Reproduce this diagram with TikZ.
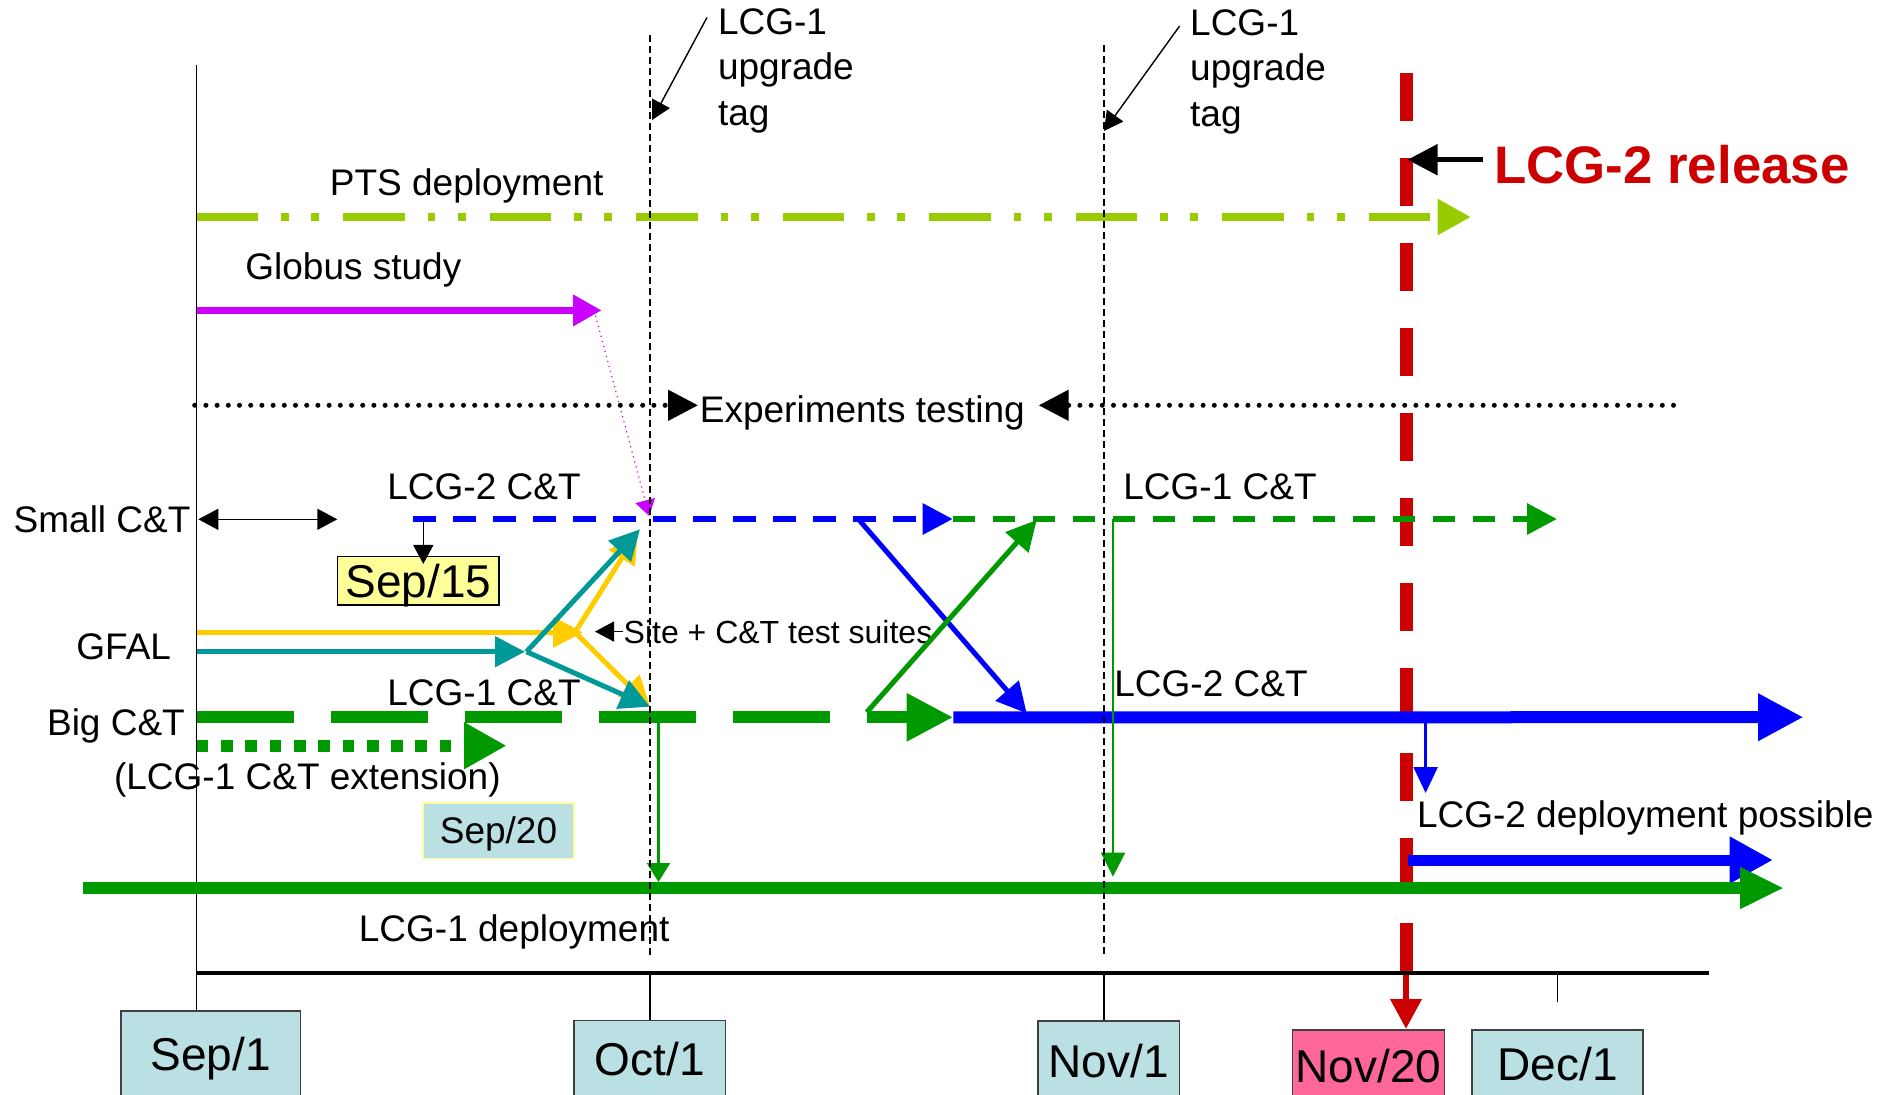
\documentclass[tikz,border=0pt]{standalone}
\usepackage{fontspec}
\setmainfont{Liberation Sans}
\usetikzlibrary{arrows.meta,positioning}

\definecolor{ptsgreen}{RGB}{153,204,0}
\definecolor{globusviolet}{RGB}{204,0,255}
\definecolor{ctgreen}{RGB}{0,153,0}
\definecolor{gfalyellow}{RGB}{255,204,0}
\definecolor{gfalteal}{RGB}{0,153,153}
\definecolor{releasered}{RGB}{204,0,0}
\definecolor{dateblue}{RGB}{187,224,227}
\definecolor{notepaper}{RGB}{255,255,153}
\definecolor{datepink}{RGB}{255,102,153}

\begin{document}
\begin{tikzpicture}[x=0.5pt, y=-0.5pt,
  >={Triangle[length=15pt,width=15pt]},
  lbl/.style={anchor=base west, inner sep=0pt, font=\fontsize{18.5}{22}\selectfont},
  tag/.style={anchor=north west, align=left, inner sep=0pt, font=\fontsize{18.5}{22.6}\selectfont},
  datebox/.style={draw=black!75, line width=0.75pt, anchor=north, inner xsep=0pt, inner ysep=0pt,
    text depth=40pt, font=\fontsize{23}{27}\selectfont},
  notebox/.style={line width=0.75pt, inner xsep=0pt, text depth=0pt},
  headS/.style={-{Triangle[length=9.5pt,width=10pt]}},
  guide/.style={line width=0.6pt, dash pattern=on 3.5pt off 2pt},
  dots/.style={line width=2.5pt, line cap=round, dash pattern=on 0pt off 5.6pt},
]
\useasboundingbox (0,0) rectangle (1896,1094);

% === Date boxes ===
\foreach \i/\lab/\cx/\ty/\bw/\tht/\col in {
    1/{Sep/1}/210.8/1010/89.75/30/dateblue,
    2/{Oct/1}/649.8/1019.6/75.75/27.7/dateblue,
    3/{Nov/1}/1108.8/1020/70.75/28.3/dateblue,
    4/{Nov/20}/1368.4/1029/76/26.4/datepink,
    5/{Dec/1}/1557.5/1029/85.5/25.5/dateblue}{
  \node[datebox, fill=\col, minimum width=\bw pt, text height=\tht pt]
    (Date-\i) at (\cx,\ty) {\lab};
}

% === Time axis ===
\coordinate (SepTop) at (196.5,64.5);
\coordinate (OctTop) at (650,35);
\coordinate (NovTop) at (1104,45.3);
\coordinate (AxisL) at (196.5,972.5);
\coordinate (AxisR) at (1708.6,972.5);
\coordinate (DecTick) at (1557.4,1001.7);
\coordinate (RedTop) at (1406,73);

% release line first, the bars go over it
\draw[releasered, line width=6.5pt, dash pattern=on 24pt off 18.5pt] (RedTop) -- (RedTop |- AxisL);
\draw[releasered, line width=3.4pt, ->] (RedTop |- AxisL) -- (RedTop |- Date-4.north);

\draw[line width=2pt] (AxisL) -- (AxisR);
\draw[line width=0.7pt] (SepTop) -- (SepTop |- Date-1.north);
\foreach \i/\m in {2/OctTop, 3/NovTop}{
  \draw[line width=0.7pt] (\m |- AxisL) -- (\m |- Date-\i.north);
}
\draw[line width=0.7pt] (DecTick |- AxisL) -- (DecTick);

% === PTS deployment ===
\node[lbl] (PtsLabel) at (329.5,195) {PTS deployment};
\coordinate (PtsStart) at (196.5,217);
\coordinate (PtsEnd) at (1471,217);
\draw[ptsgreen, line width=4.3pt,
  dash pattern=on 30.75pt off 11.5pt on 3.75pt off 11.25pt on 4pt off 12pt,
  -{Triangle[length=16.7pt,width=17pt]}] (PtsStart) -- (PtsEnd);

% === Globus study ===
\node[lbl] (GlobusLabel) at (245,279) {Globus study};
\coordinate (GlobusStart) at (196.5,310.4);
\coordinate (GlobusEnd) at (601.6,310.4);
\coordinate (GlobusLink) at (595.5,315.7);
\coordinate (Lcg2Join) at (649.3,516);
\draw[globusviolet, line width=3.5pt, -{Triangle[length=14.3pt,width=15pt]}] (GlobusStart) -- (GlobusEnd);
\draw[globusviolet, line width=0.6pt, dotted, -{Triangle[length=8pt,width=10pt]}] (GlobusLink) -- (Lcg2Join);

% === Experiments testing ===
\node[lbl] (ExpLabel) at (699.5,422) {Experiments testing};
\coordinate (ExpL) at (194.7,405.3);
\coordinate (ExpR) at (1673.5,405.3);
\coordinate (ExpTipL) at (698,405.3);
\coordinate (ExpTipR) at (1038.7,405.3);
\draw[dots, ->] (ExpL) -- (ExpTipL);
\draw[dots, ->] (ExpR) -- (ExpTipR);

% === Small C&T ===
\node[lbl] (SmallLabel) at (13.3,532.7) {Small C\&T};
\coordinate (SmallL) at (198.3,519.3);
\coordinate (SmallR) at (337.3,519.3);
\draw[line width=0.7pt, {Triangle[length=10pt,width=10.5pt]}-{Triangle[length=10pt,width=10.5pt]}] (SmallL) -- (SmallR);

\node[lbl] (Lcg2SmallLabel) at (387,499.5) {LCG-2 C\&T};
\node[lbl] (Lcg1SmallLabel) at (1123,499.5) {LCG-1 C\&T};
\coordinate (Lcg2Start) at (413,519);
\coordinate (SwapTop) at (952.7,519);
\coordinate (Lcg1SmallEnd) at (1557,519);
\draw[blue, line width=3.1pt, dash pattern=on 11.5pt off 8.5pt, ->] (Lcg2Start) -- (SwapTop);
\draw[ctgreen, line width=3.1pt, dash pattern=on 11pt off 9pt, ->] (SwapTop) -- (Lcg1SmallEnd);

\node[notebox, draw=black, fill=notepaper, minimum width=80.65pt, text height=16.5pt, inner ysep=3.8pt,
  font=\fontsize{23}{27}\selectfont] (Sep15) at (418.3,580.8) {Sep/15};
\coordinate (Sep15Src) at (423.3,519);
\draw[line width=0.7pt, headS, shorten >=-4pt] (Sep15Src) -- (Sep15Src |- Sep15.north);

% === GFAL ===
\node[lbl] (GfalLabel) at (76,659) {GFAL};
\coordinate (YelStart) at (196.5,632.3);
\coordinate (YelEnd) at (583,632.3);
\coordinate (YelHub) at (575,632.3);
\coordinate (YelUp) at (637.7,533);
\coordinate (TealStart) at (196.5,651.7);
\coordinate (TealEnd) at (525,651.7);
\coordinate (TealHub) at (526.5,651.7);
\coordinate (TealUp) at (640,529.3);
\coordinate (Lcg1Join) at (650,706.7);
\foreach \a/\b in {YelStart/YelEnd, YelHub/YelUp, YelHub/Lcg1Join}{
  \draw[gfalyellow, line width=2.5pt, ->] (\a) -- (\b);
}
\foreach \a/\b in {TealStart/TealEnd, TealHub/TealUp, TealHub/Lcg1Join}{
  \draw[gfalteal, line width=2.5pt, ->] (\a) -- (\b);
}
\node[lbl, font=\fontsize{16}{19}\selectfont] (SiteLabel) at (623.3,643) {Site + C\&T test suites};
\coordinate (SiteTip) at (595,632.7);
\draw[line width=0.7pt, headS] (SiteLabel.west) -- (SiteLabel.west -| SiteTip);

% === Big C&T ===
\node[lbl] (Lcg1BigLabel) at (387,705.7) {LCG-1 C\&T};
\node[lbl] (BigLabel) at (46.7,735) {Big C\&T};
\coordinate (BigStart) at (196.7,717.3);
\coordinate (SwapBottom) at (953.3,717.3);
\draw[ctgreen, line width=5.85pt, dash pattern=on 48.75pt off 18.25pt,
  -{Triangle[length=23.3pt,width=22.5pt]}] (BigStart) -- (SwapBottom);
\coordinate (ExtStart) at (196.7,745.7);
\coordinate (ExtEnd) at (506.6,745.7);
\draw[ctgreen, line width=6pt, dash pattern=on 5.85pt off 6.3pt,
  -{Triangle[length=21.3pt,width=22pt]}] (ExtStart) -- (ExtEnd);
\node[lbl] (ExtLabel) at (113.7,789.4) {(LCG-1 C\&T extension)};
\node[notebox, draw=notepaper, fill=dateblue, minimum width=75.5pt, text height=13.25pt, inner ysep=7.3pt,
  font=\fontsize{18.5}{22}\selectfont] (Sep20) at (498.5,830.6) {Sep/20};

% === Swap of the two C&T lines ===
\coordinate (BlueDiagStart) at (858.3,519);
\coordinate (BlueDiagEnd) at (1026.7,713.3);
\coordinate (GreenDiagStart) at (866.7,712.3);
\coordinate (GreenDiagEnd) at (1036.7,520);
\draw[blue, line width=2.5pt, ->] (BlueDiagStart) -- (BlueDiagEnd);
\draw[ctgreen, line width=2.5pt, ->] (GreenDiagStart) -- (GreenDiagEnd);

% === LCG-2 C&T and deployment possible ===
\coordinate (Lcg2BigEnd) at (1803.5,717.2);
\draw[blue, line width=6pt, -{Triangle[length=22.75pt,width=22.25pt]}] (SwapBottom) -- (Lcg2BigEnd);
\node[lbl] (Lcg2BigLabel) at (1114,696) {LCG-2 C\&T};
\coordinate (PossibleDrop) at (1425.6,717.2);
\coordinate (PossibleTip) at (1425.6,793);
\draw[blue, line width=1.2pt, -{Triangle[length=13pt,width=12pt]}] (PossibleDrop) -- (PossibleTip);
\node[lbl] (PossibleLabel) at (1416.6,827.8) {LCG-2 deployment possible};
\coordinate (PossibleStart) at (1407.5,860);
\coordinate (PossibleEnd) at (1773,860);
\draw[blue, line width=5.5pt, -{Triangle[length=21.7pt,width=22pt]}] (PossibleStart) -- (PossibleEnd);

% === LCG-1 deployment ===
\coordinate (DeployStart) at (83.4,888);
\coordinate (DeployEnd) at (1784,888);
\draw[ctgreen, line width=6pt, -{Triangle[length=22pt,width=19.4pt]}] (DeployStart) -- (DeployEnd);
\node[lbl] (DeployLabel) at (358.5,941) {LCG-1 deployment};
\coordinate (OctDrop) at (658.5,717.3);
\coordinate (NovDrop) at (1113,519);
\draw[ctgreen, line width=1.3pt, -{Triangle[length=9.5pt,width=11.5pt]}, shorten >=3pt] (OctDrop) -- (OctDrop |- DeployStart);
\draw[ctgreen, line width=1.3pt, -{Triangle[length=12pt,width=12pt]}, shorten >=5.7pt] (NovDrop) -- (NovDrop |- DeployStart);

% === LCG-2 release ===
\node[anchor=base west, inner sep=0pt, text=releasered, font=\fontsize{26.4}{31}\selectfont\bfseries]
  (ReleaseLabel) at (1494,183) {LCG-2 release};
\coordinate (ReleaseTail) at (1483,159.7);
\coordinate (ReleaseTip) at (1407.5,159.7);
\draw[line width=2.6pt, ->] (ReleaseTail) -- (ReleaseTip);

% === Upgrade tags ===
\node[tag] (TagOct) at (717.6,8.5) {LCG-1\\upgrade\\tag};
\node[tag] (TagNov) at (1189.8,9.5) {LCG-1\\upgrade\\tag};
\coordinate (TagOctTail) at (707,17.4);
\coordinate (TagOctTip) at (652,120);
\coordinate (TagNovTail) at (1179.6,26);
\coordinate (TagNovTip) at (1104,131);
\draw[line width=0.7pt, headS] (TagOctTail) -- (TagOctTip);
\draw[line width=0.7pt, headS] (TagNovTail) -- (TagNovTip);

% month guides on top
\foreach \m in {OctTop, NovTop}{
  \draw[guide, shorten >=9pt] (\m) -- (\m |- AxisL);
}
\end{tikzpicture}
\end{document}
